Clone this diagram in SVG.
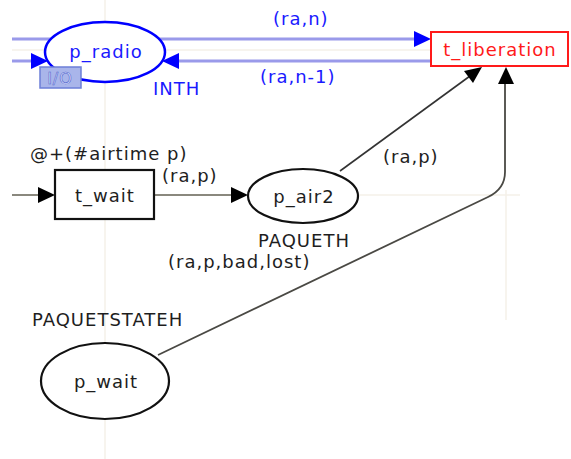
<svg xmlns="http://www.w3.org/2000/svg" width="571" height="459" viewBox="0 0 571 459">
<style>
  text { font-family: "DejaVu Sans", Verdana, sans-serif; font-size: 18px; letter-spacing: 1px; }
  .blue { fill: #1a1aff; }
  .dark { fill: #1e1e1e; }
  .place { fill: #fff; stroke: #111; stroke-width: 2.2; }
  .grid { stroke: #f4f1e8; stroke-width: 1.5; fill: none; }
  .blink { stroke: #9a9aea; stroke-width: 3; fill: none; }
  .bhead { fill: #0000ff; }
  .khead { fill: #000; }
</style>
<rect width="571" height="459" fill="#fff"/>
<g id="grid">
  <line class="grid" x1="105" y1="0" x2="105" y2="459"/>
  <line class="grid" x1="12" y1="50" x2="431" y2="50"/>
  <line class="grid" x1="358" y1="195" x2="520" y2="195"/>
  <line class="grid" x1="506" y1="190" x2="506" y2="320"/>
</g>
<g id="connectors">
  <line class="blink" x1="12" y1="39" x2="416" y2="39"/>
  <polygon class="bhead" points="431,39 414,31 414,47"/>
  <line class="blink" x1="12" y1="61" x2="32" y2="61"/>
  <polygon class="bhead" points="48,61 31,53 31,69"/>
  <line class="blink" x1="178" y1="61" x2="431" y2="61"/>
  <polygon class="bhead" points="162,61 179,53 179,69"/>
  <line x1="12" y1="195" x2="40" y2="195" stroke="#8a887e" stroke-width="2"/>
  <polygon class="khead" points="55,195 38,187 38,203"/>
  <line x1="154" y1="195" x2="233" y2="195" stroke="#8a887e" stroke-width="2"/>
  <polygon class="khead" points="248,195 231,187 231,203"/>
  <line x1="340" y1="171" x2="470" y2="76" stroke="#333" stroke-width="1.6"/>
  <polygon class="khead" points="482,67 473,83 464,71"/>
  <path d="M158,355 L488,197 Q505,189 505,172 L505,84" fill="none" stroke="#4a4944" stroke-width="1.8"/>
  <polygon class="khead" points="506,67 498,84 514,84"/>
</g>
<g id="p_radio">
  <ellipse cx="105" cy="52" rx="60" ry="30" fill="#fff" stroke="#0000ff" stroke-width="2.5"/>
  <text class="blue" x="106" y="58" text-anchor="middle">p_radio</text>
  <rect x="40" y="67" width="41" height="21" fill="#a9b5ea" stroke="#6c7fd8" stroke-width="1.5"/>
  <text x="60" y="84" text-anchor="middle" fill="#d6ddfc" stroke="#5266cc" stroke-width="0.6" style="font-size:16px">I/O</text>
  <text class="blue" x="153" y="95">INTH</text>
</g>
<g id="t_liberation">
  <rect x="431" y="32" width="137" height="34" fill="#fff" stroke="#ff1a1a" stroke-width="2"/>
  <text x="500" y="56" text-anchor="middle" fill="#ff1a1a">t_liberation</text>
</g>
<g id="t_wait">
  <rect x="55" y="170" width="99" height="49" fill="#fff" stroke="#111" stroke-width="2.2"/>
  <text class="dark" x="105" y="202" text-anchor="middle">t_wait</text>
  <text class="dark" x="30" y="160">@+(#airtime p)</text>
</g>
<g id="p_air2">
  <ellipse class="place" cx="303" cy="196" rx="55" ry="27"/>
  <text class="dark" x="304" y="203" text-anchor="middle">p_air2</text>
  <text class="dark" x="258" y="247">PAQUETH</text>
</g>
<g id="p_wait">
  <ellipse class="place" cx="105" cy="381" rx="64" ry="38"/>
  <text class="dark" x="106" y="388" text-anchor="middle">p_wait</text>
  <text class="dark" x="32" y="326">PAQUETSTATEH</text>
</g>
<g id="labels">
  <text class="blue" x="273" y="25">(ra,n)</text>
  <text class="blue" x="260" y="83">(ra,n-1)</text>
  <text class="dark" x="162" y="182">(ra,p)</text>
  <text class="dark" x="383" y="163">(ra,p)</text>
  <text class="dark" x="168" y="268">(ra,p,bad,lost)</text>
</g>
</svg>
